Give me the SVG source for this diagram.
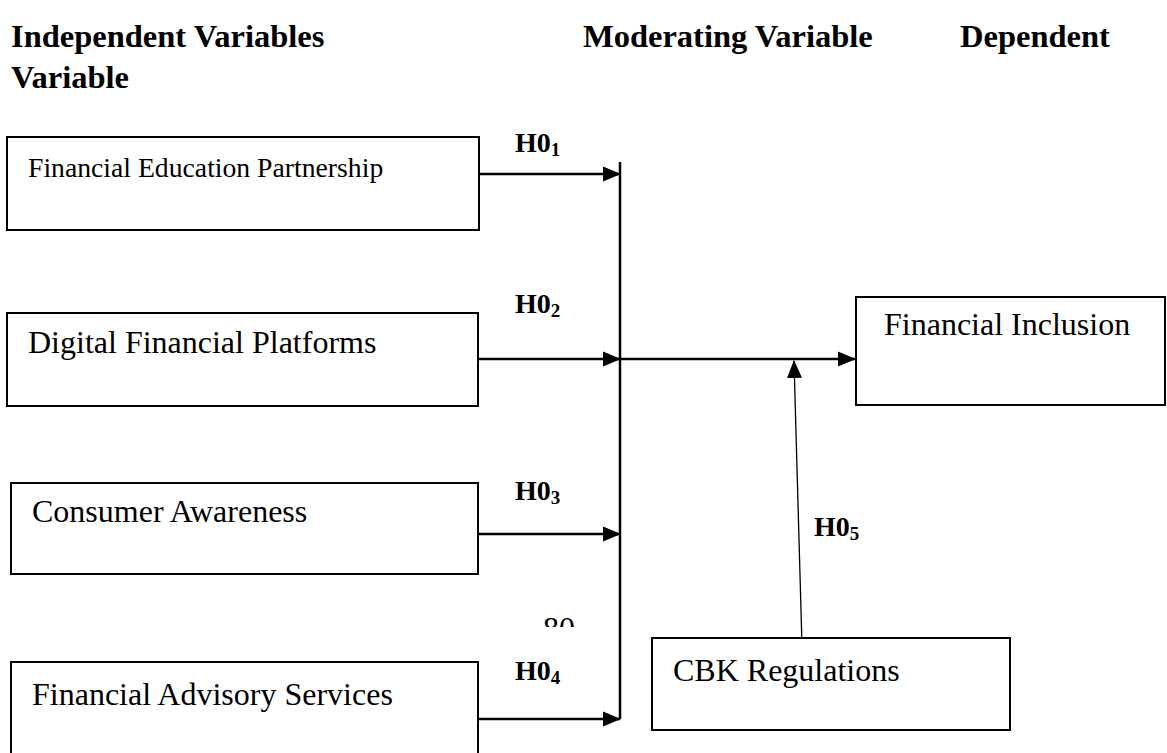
<svg xmlns="http://www.w3.org/2000/svg" width="1167" height="753" viewBox="0 0 1167 753">
<style>
.hdr{font-family:"Liberation Serif","Times New Roman",serif;font-weight:bold;font-size:32.5px;fill:#000}
.lbl{font-family:"Liberation Serif","Times New Roman",serif;font-size:32px;fill:#000}
.lbl-s{font-family:"Liberation Serif","Times New Roman",serif;font-size:27.7px;fill:#000}
.hyp{font-family:"Liberation Serif","Times New Roman",serif;font-weight:bold;font-size:28px;fill:#000}
.box{fill:#fff;stroke:#000;stroke-width:2}
.conn{stroke:#000;stroke-width:2.5;fill:none}
.thin{stroke:#000;stroke-width:1.3;fill:none}
</style>
<defs>
<marker id="ah" markerUnits="userSpaceOnUse" markerWidth="18" markerHeight="18" viewBox="0 0 18 18" refX="17" refY="9" orient="auto">
<path d="M0,1.5 L18,9 L0,16.5 Z" fill="#000"/>
</marker>
<clipPath id="clip80"><rect x="500" y="600" width="120" height="27"/></clipPath>
</defs>
<rect width="1167" height="753" fill="#fff"/>
<g id="headers">
<text class="hdr" x="11" y="47">Independent Variables</text>
<text class="hdr" x="583" y="47">Moderating Variable</text>
<text class="hdr" x="960" y="47">Dependent</text>
<text class="hdr" x="11" y="88">Variable</text>
</g>
<g id="connectors">
<line class="conn" x1="620" y1="162" x2="620" y2="719"/>
<line class="conn" x1="478" y1="174" x2="620" y2="174" marker-end="url(#ah)"/>
<line class="conn" x1="478" y1="359" x2="620" y2="359" marker-end="url(#ah)"/>
<line class="conn" x1="478" y1="534" x2="620" y2="534" marker-end="url(#ah)"/>
<line class="conn" x1="478" y1="719" x2="620" y2="719" marker-end="url(#ah)"/>
<line class="conn" x1="620" y1="359" x2="855" y2="359" marker-end="url(#ah)"/>
<line class="thin" x1="802" y1="646" x2="794" y2="361" marker-end="url(#ah)"/>
</g>
<g id="hypotheses">
<text class="hyp" x="515" y="152">H0<tspan font-size="19" dy="4">1</tspan></text>
<text class="hyp" x="515" y="313">H0<tspan font-size="19" dy="4">2</tspan></text>
<text class="hyp" x="515" y="500">H0<tspan font-size="19" dy="4">3</tspan></text>
<text class="hyp" x="515" y="680">H0<tspan font-size="19" dy="4">4</tspan></text>
<text class="hyp" x="814" y="536">H0<tspan font-size="19" dy="4">5</tspan></text>
</g>
<g id="node-fep">
<rect class="box" x="7" y="137" width="472" height="93"/>
<text class="lbl-s" x="28" y="177">Financial Education Partnership</text>
</g>
<g id="node-dfp">
<rect class="box" x="7" y="313" width="471" height="93"/>
<text class="lbl" x="28" y="353">Digital Financial Platforms</text>
</g>
<g id="node-ca">
<rect class="box" x="11" y="483" width="467" height="91"/>
<text class="lbl" x="32" y="522">Consumer Awareness</text>
</g>
<g id="node-fas">
<rect class="box" x="11" y="662" width="467" height="110"/>
<text class="lbl" x="32" y="705">Financial Advisory Services</text>
</g>
<g id="node-fi">
<rect class="box" x="856" y="297" width="309" height="108"/>
<text class="lbl" x="884" y="335">Financial Inclusion</text>
</g>
<g id="node-cbk">
<rect class="box" x="652" y="638" width="358" height="92"/>
<text class="lbl" x="673" y="681">CBK Regulations</text>
</g>
<g id="page-number" clip-path="url(#clip80)">
<text class="lbl" x="543" y="639">80</text>
</g>
</svg>
